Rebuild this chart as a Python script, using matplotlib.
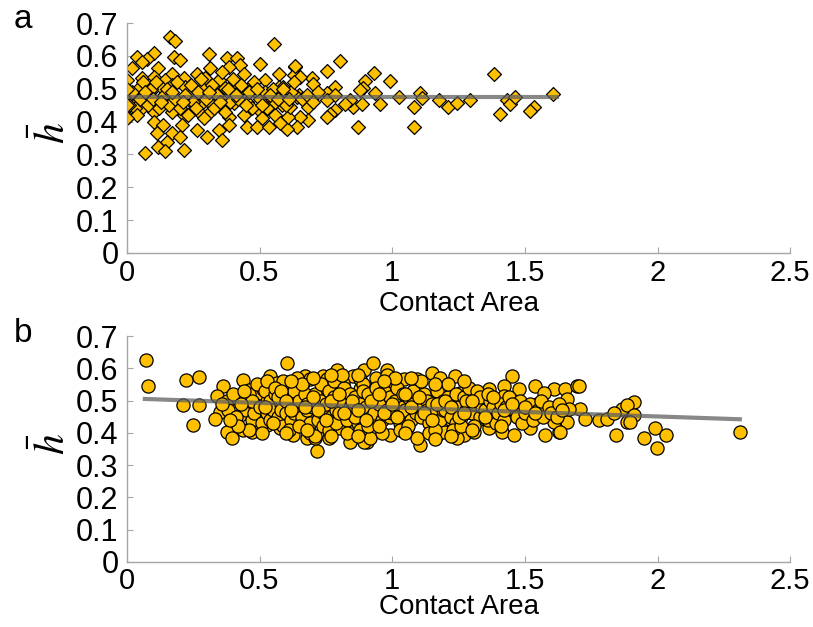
"""
Contact area vs. mean h - two panel scatter (a: diamonds, b: circles)
"""

import matplotlib
matplotlib.use('Agg')
import matplotlib.pyplot as plt

matplotlib.rcParams['font.family'] = ['Liberation Sans', 'DejaVu Sans']
matplotlib.rcParams['mathtext.fontset'] = 'stix'

# panel a: (contact area, h bar)
a_points = [
    (0.164, 0.658), (0.182, 0.645), (0.553, 0.635), (0.038, 0.597), (0.101, 0.608),
    (0.075, 0.592), (0.057, 0.582), (0.176, 0.597), (0.201, 0.587), (0.311, 0.605),
    (0.377, 0.594), (0.415, 0.594), (0.428, 0.572), (0.503, 0.574), (0.635, 0.567),
    (0.019, 0.562), (0.119, 0.564), (0.170, 0.544), (0.314, 0.562), (0.384, 0.567),
    (0.440, 0.544), (0.572, 0.544), (0.000, 0.526), (0.057, 0.532), (0.101, 0.537),
    (0.145, 0.526), (0.214, 0.532), (0.264, 0.544), (0.296, 0.532), (0.346, 0.526),
    (0.409, 0.521), (0.522, 0.526), (0.629, 0.542), (0.220, 0.506), (0.170, 0.511),
    (0.044, 0.501), (0.088, 0.491), (0.132, 0.501), (0.283, 0.501), (0.321, 0.496),
    (0.371, 0.501), (0.428, 0.496), (0.465, 0.506), (0.491, 0.486), (0.572, 0.506),
    (0.610, 0.481), (0.648, 0.481), (0.012, 0.476), (0.038, 0.461), (0.075, 0.466),
    (0.126, 0.461), (0.170, 0.471), (0.233, 0.466), (0.277, 0.450), (0.314, 0.456),
    (0.358, 0.466), (0.403, 0.456), (0.453, 0.461), (0.535, 0.466), (0.585, 0.450),
    (0.006, 0.415), (0.050, 0.435), (0.101, 0.430), (0.170, 0.430), (0.214, 0.420),
    (0.271, 0.430), (0.308, 0.425), (0.384, 0.415), (0.497, 0.435), (0.541, 0.445),
    (0.509, 0.410), (0.560, 0.420), (0.101, 0.400), (0.138, 0.390), (0.208, 0.390),
    (0.264, 0.374), (0.302, 0.354), (0.346, 0.374), (0.384, 0.390), (0.453, 0.384),
    (0.491, 0.384), (0.535, 0.384), (0.597, 0.384), (0.113, 0.364), (0.170, 0.364),
    (0.201, 0.354), (0.151, 0.339), (0.358, 0.344), (0.119, 0.324), (0.145, 0.311),
    (0.214, 0.314), (0.069, 0.303),
    (0.804, 0.585), (0.754, 0.555), (0.633, 0.569), (0.933, 0.547), (0.992, 0.524),
    (0.896, 0.524), (0.785, 0.506), (0.697, 0.532), (0.702, 0.516), (0.653, 0.535),
    (0.889, 0.501), (0.936, 0.486), (0.754, 0.488), (0.754, 0.466), (1.024, 0.474),
    (1.106, 0.486), (1.112, 0.471), (1.084, 0.443), (1.084, 0.384), (1.175, 0.466),
    (1.212, 0.443), (1.244, 0.456), (1.294, 0.466), (1.383, 0.544), (1.406, 0.423),
    (1.433, 0.466), (1.445, 0.453), (1.464, 0.476), (1.533, 0.445), (1.521, 0.433),
    (1.606, 0.484), (0.955, 0.453), (0.873, 0.384), (0.854, 0.443), (0.886, 0.453),
    (0.842, 0.466), (0.823, 0.453), (0.879, 0.496), (0.785, 0.435), (0.766, 0.423),
    (0.754, 0.413), (0.684, 0.443), (0.684, 0.405), (0.653, 0.415), (0.640, 0.384),
    (0.603, 0.379), (0.609, 0.415), (0.577, 0.395), (0.640, 0.474), (0.615, 0.491),
    (0.590, 0.506), (0.615, 0.445), (0.785, 0.481),
    (0.02, 0.49), (0.03, 0.44), (0.05, 0.47), (0.06, 0.52), (0.08, 0.45),
    (0.09, 0.50), (0.10, 0.47), (0.12, 0.44), (0.14, 0.48), (0.15, 0.50),
    (0.16, 0.45), (0.18, 0.47), (0.19, 0.52), (0.20, 0.44), (0.22, 0.48),
    (0.23, 0.42), (0.24, 0.51), (0.25, 0.46), (0.27, 0.49), (0.28, 0.53),
    (0.29, 0.41), (0.30, 0.47), (0.32, 0.51), (0.33, 0.44), (0.34, 0.48),
    (0.36, 0.55), (0.37, 0.43), (0.38, 0.50), (0.39, 0.46), (0.40, 0.53),
    (0.42, 0.47), (0.43, 0.51), (0.44, 0.42), (0.46, 0.49), (0.47, 0.44),
    (0.48, 0.52), (0.50, 0.47), (0.52, 0.49), (0.53, 0.44), (0.55, 0.50),
    (0.56, 0.46), (0.58, 0.48), (0.60, 0.45), (0.62, 0.49), (0.63, 0.52),
    (0.01, 0.45), (0.04, 0.42), (0.07, 0.49), (0.11, 0.52), (0.13, 0.46),
    (0.17, 0.49), (0.21, 0.46), (0.26, 0.44), (0.31, 0.49), (0.35, 0.46),
    (0.41, 0.48), (0.45, 0.45), (0.49, 0.50), (0.51, 0.45), (0.54, 0.48),
    (0.57, 0.47), (0.59, 0.50), (0.61, 0.47), (0.66, 0.47), (0.68, 0.48),
    (0.70, 0.46), (0.72, 0.49), (0.00, 0.50), (0.00, 0.45), (0.00, 0.41),
]

# panel b
b_points = [
    (0.072, 0.625), (0.080, 0.546), (0.223, 0.564), (0.271, 0.574), (0.210, 0.485),
    (0.271, 0.485), (0.250, 0.424), (0.603, 0.615), (0.361, 0.546), (0.439, 0.564),
    (0.462, 0.533), (0.338, 0.513), (0.376, 0.500), (0.420, 0.505), (0.351, 0.465),
    (0.332, 0.444), (0.376, 0.404), (0.395, 0.383), (0.426, 0.454), (0.439, 0.409),
    (0.470, 0.401), (0.489, 0.434), (0.502, 0.525), (0.540, 0.576), (0.565, 0.556),
    (0.590, 0.561), (0.546, 0.530), (0.527, 0.500), (0.565, 0.495), (0.514, 0.465),
    (0.552, 0.444), (0.577, 0.414), (0.527, 0.424), (0.628, 0.393), (0.672, 0.576),
    (0.665, 0.556), (0.615, 0.530), (0.628, 0.475), (0.659, 0.444), (0.678, 0.383),
    (0.716, 0.343), (0.709, 0.383), (0.760, 0.383), (0.741, 0.576), (0.792, 0.596),
    (0.766, 0.546), (0.728, 0.505), (0.703, 0.460), (0.754, 0.450), (0.804, 0.495),
    (0.854, 0.576), (0.892, 0.596), (0.879, 0.536), (0.842, 0.424), (0.804, 0.414),
    (0.854, 0.383), (0.905, 0.373),
    (0.929, 0.617), (0.980, 0.596), (1.150, 0.586), (0.842, 0.373), (0.892, 0.373),
    (0.917, 0.383), (0.992, 0.393), (1.106, 0.363), (1.093, 0.383), (1.169, 0.393),
    (1.055, 0.414), (1.005, 0.556), (1.043, 0.566), (1.093, 0.566), (1.194, 0.546),
    (0.942, 0.556), (0.879, 0.566), (0.816, 0.556), (0.754, 0.566), (0.691, 0.566),
    (0.514, 0.536),
    (1.238, 0.576), (1.452, 0.576), (1.540, 0.546), (1.609, 0.536), (1.653, 0.536),
    (1.697, 0.546), (1.477, 0.536), (1.420, 0.546), (1.364, 0.536), (1.573, 0.525),
    (1.659, 0.505), (1.546, 0.490), (1.502, 0.475), (1.458, 0.495), (1.420, 0.515),
    (1.370, 0.500), (1.320, 0.505), (1.257, 0.525), (1.206, 0.536), (1.269, 0.393),
    (1.244, 0.383), (1.307, 0.404), (1.364, 0.414), (1.414, 0.404), (1.458, 0.393),
    (1.521, 0.414), (1.577, 0.393), (1.628, 0.404), (1.659, 0.434), (1.709, 0.475),
    (1.728, 0.444), (1.779, 0.439), (1.810, 0.444), (1.842, 0.393), (1.867, 0.475),
    (1.911, 0.495), (1.886, 0.434), (1.609, 0.434), (1.558, 0.454), (1.483, 0.444),
    (1.433, 0.454), (1.382, 0.465), (1.332, 0.444), (1.282, 0.465), (1.219, 0.444),
    (1.194, 0.404), (1.320, 0.485),
    (1.703, 0.544), (1.665, 0.475), (1.634, 0.404), (1.835, 0.460), (1.886, 0.485),
    (1.911, 0.454), (1.898, 0.434), (1.948, 0.383), (1.990, 0.414), (2.030, 0.393),
    (1.999, 0.353), (2.309, 0.404),
    (0.45, 0.47), (0.46, 0.52), (0.47, 0.44), (0.48, 0.49), (0.49, 0.55),
    (0.46, 0.41), (0.48, 0.46), (0.47, 0.50), (0.50, 0.48), (0.51, 0.43),
    (0.52, 0.53), (0.53, 0.46), (0.54, 0.50), (0.51, 0.40), (0.53, 0.56),
    (0.54, 0.44), (0.55, 0.47), (0.56, 0.52), (0.57, 0.45), (0.58, 0.49),
    (0.59, 0.42), (0.56, 0.54), (0.58, 0.47), (0.57, 0.51), (0.60, 0.46),
    (0.61, 0.50), (0.62, 0.44), (0.63, 0.53), (0.64, 0.48), (0.61, 0.41),
    (0.63, 0.46), (0.64, 0.57), (0.65, 0.50), (0.66, 0.45), (0.67, 0.52),
    (0.68, 0.47), (0.69, 0.43), (0.66, 0.55), (0.68, 0.49), (0.69, 0.40),
    (0.70, 0.48), (0.71, 0.52), (0.72, 0.44), (0.73, 0.55), (0.74, 0.46),
    (0.71, 0.39), (0.73, 0.50), (0.74, 0.42), (0.75, 0.49), (0.76, 0.53),
    (0.77, 0.45), (0.78, 0.51), (0.79, 0.47), (0.76, 0.41), (0.78, 0.56),
    (0.79, 0.43), (0.80, 0.46), (0.81, 0.50), (0.82, 0.54), (0.83, 0.44),
    (0.84, 0.48), (0.81, 0.58), (0.83, 0.40), (0.84, 0.52), (0.85, 0.47),
    (0.86, 0.51), (0.87, 0.43), (0.88, 0.49), (0.89, 0.55), (0.86, 0.45),
    (0.88, 0.41), (0.89, 0.53), (0.90, 0.48), (0.91, 0.52), (0.92, 0.45),
    (0.93, 0.50), (0.94, 0.57), (0.91, 0.42), (0.93, 0.46), (0.94, 0.54),
    (0.95, 0.49), (0.96, 0.44), (0.97, 0.53), (0.98, 0.47), (0.99, 0.51),
    (0.96, 0.40), (0.98, 0.58), (0.99, 0.45), (1.00, 0.46), (1.01, 0.50),
    (1.02, 0.54), (1.03, 0.43), (1.04, 0.48), (1.01, 0.57), (1.03, 0.41),
    (1.04, 0.52), (1.05, 0.47), (1.06, 0.51), (1.07, 0.44), (1.08, 0.49),
    (1.09, 0.55), (1.06, 0.42), (1.08, 0.53), (1.09, 0.46), (1.10, 0.48),
    (1.11, 0.45), (1.12, 0.52), (1.13, 0.50), (1.14, 0.43), (1.11, 0.56),
    (1.13, 0.47), (1.14, 0.40), (1.15, 0.49), (1.16, 0.46), (1.17, 0.53),
    (1.18, 0.44), (1.19, 0.50), (1.16, 0.41), (1.18, 0.57), (1.19, 0.47),
    (1.20, 0.47), (1.21, 0.51), (1.22, 0.45), (1.23, 0.49), (1.24, 0.43),
    (1.21, 0.55), (1.23, 0.41), (1.24, 0.52), (1.25, 0.48), (1.26, 0.45),
    (1.27, 0.51), (1.28, 0.47), (1.29, 0.54), (1.26, 0.42), (1.28, 0.50),
    (1.30, 0.46), (1.31, 0.49), (1.32, 0.53), (1.33, 0.45), (1.34, 0.48),
    (1.31, 0.42), (1.33, 0.51), (1.35, 0.47), (1.36, 0.44), (1.37, 0.50),
    (1.38, 0.48), (1.39, 0.43), (1.36, 0.52), (1.40, 0.46), (1.41, 0.49),
    (1.42, 0.44), (1.43, 0.48), (1.44, 0.51), (1.41, 0.42), (1.46, 0.47),
    (1.47, 0.45), (1.48, 0.50), (1.49, 0.43), (1.50, 0.46), (1.52, 0.49),
    (1.53, 0.44), (1.55, 0.47), (1.56, 0.50), (1.57, 0.45), (1.59, 0.48),
    (1.60, 0.46), (1.62, 0.45), (1.63, 0.49), (1.64, 0.47), (0.38, 0.47),
    (0.40, 0.52), (0.41, 0.45), (0.43, 0.49), (0.42, 0.42), (0.44, 0.53),
    (0.36, 0.49), (0.39, 0.44),
    (0.52, 0.48), (0.55, 0.43), (0.58, 0.53), (0.60, 0.50), (0.62, 0.47),
    (0.65, 0.42), (0.67, 0.48), (0.70, 0.51), (0.72, 0.47), (0.75, 0.44),
    (0.77, 0.50), (0.80, 0.52), (0.82, 0.46), (0.85, 0.50), (0.87, 0.47),
    (0.90, 0.44), (0.92, 0.50), (0.95, 0.52), (0.97, 0.46), (1.00, 0.49),
    (1.02, 0.45), (1.05, 0.52), (1.07, 0.48), (1.10, 0.51), (1.12, 0.46),
    (1.15, 0.44), (1.17, 0.49), (1.20, 0.50), (1.22, 0.48), (1.25, 0.45),
    (1.27, 0.46), (1.30, 0.50), (1.35, 0.45), (1.38, 0.51), (1.42, 0.47),
    (1.45, 0.49), (1.50, 0.48), (1.54, 0.46), (0.62, 0.56), (0.70, 0.57),
    (0.77, 0.58), (0.87, 0.58), (0.97, 0.56), (1.07, 0.57), (1.16, 0.55),
    (1.27, 0.56), (0.60, 0.40), (0.68, 0.41), (0.77, 0.39), (0.87, 0.39),
    (0.95, 0.42), (1.05, 0.40), (1.16, 0.38), (1.22, 0.39), (1.30, 0.41),
]

# fitted lines (end points)
fit_a_x = [0.0, 1.62]
fit_a_y = [0.475, 0.475]
fit_b_x = [0.068, 2.31]
fit_b_y = [0.505, 0.442]

x_ticks = [0, 0.5, 1, 1.5, 2, 2.5]
y_ticks = [0, 0.1, 0.2, 0.3, 0.4, 0.5, 0.6, 0.7]

GOLD = '#FFC000'
AXIS_GRAY = '#a6a6a6'


def style_axis(ax, xlabel_pad):
    """MATLAB-ish axis look"""
    ax.set_xlim(0, 2.5)
    ax.set_ylim(0, 0.7)
    ax.set_xticks(x_ticks)
    ax.set_xticklabels(['0', '0.5', '1', '1.5', '2', '2.5'])
    ax.set_yticks(y_ticks)
    ax.set_yticklabels(['0', '0.1', '0.2', '0.3', '0.4', '0.5', '0.6', '0.7'])
    for side in ['top', 'right']:
        ax.spines[side].set_visible(False)
    for side in ['left', 'bottom']:
        ax.spines[side].set_color(AXIS_GRAY)
        ax.spines[side].set_linewidth(1.0)
    ax.tick_params(direction='in', length=4, color=AXIS_GRAY, labelsize=22, pad=6)
    ax.tick_params(axis='x', labelsize=21, pad=4)
    ax.set_xlabel('Contact Area', fontsize=20, labelpad=xlabel_pad)
    ax.set_ylabel(r'$\bar{h}$', fontsize=30)
    ax.yaxis.set_label_coords(-0.08, 0.52)


fig = plt.figure(figsize=(8.13, 6.27), dpi=100)
ax1 = fig.add_axes([0.156, 0.5965, 0.816, 0.3667])
ax2 = fig.add_axes([0.156, 0.104, 0.816, 0.360])

# a - diamonds
ax1.scatter([p[0] for p in a_points], [p[1] for p in a_points], marker='D', s=50,
            facecolor=GOLD, edgecolor='black', linewidth=0.9, zorder=2)
ax1.plot(fit_a_x, fit_a_y, color='#606060', alpha=0.75, linewidth=3, zorder=3)

# b - circles
ax2.scatter([p[0] for p in b_points], [p[1] for p in b_points], marker='o', s=90,
            facecolor=GOLD, edgecolor='black', linewidth=0.9, zorder=2)
ax2.plot(fit_b_x, fit_b_y, color='#606060', alpha=0.75, linewidth=3, zorder=3)

style_axis(ax1, 3)
style_axis(ax2, -1)

fig.text(0.017, 1 - 20 / 627, 'a', fontsize=24, va='center')
fig.text(0.017, 1 - 333 / 627, 'b', fontsize=24, va='center')

fig.savefig('out.png', dpi=100)
